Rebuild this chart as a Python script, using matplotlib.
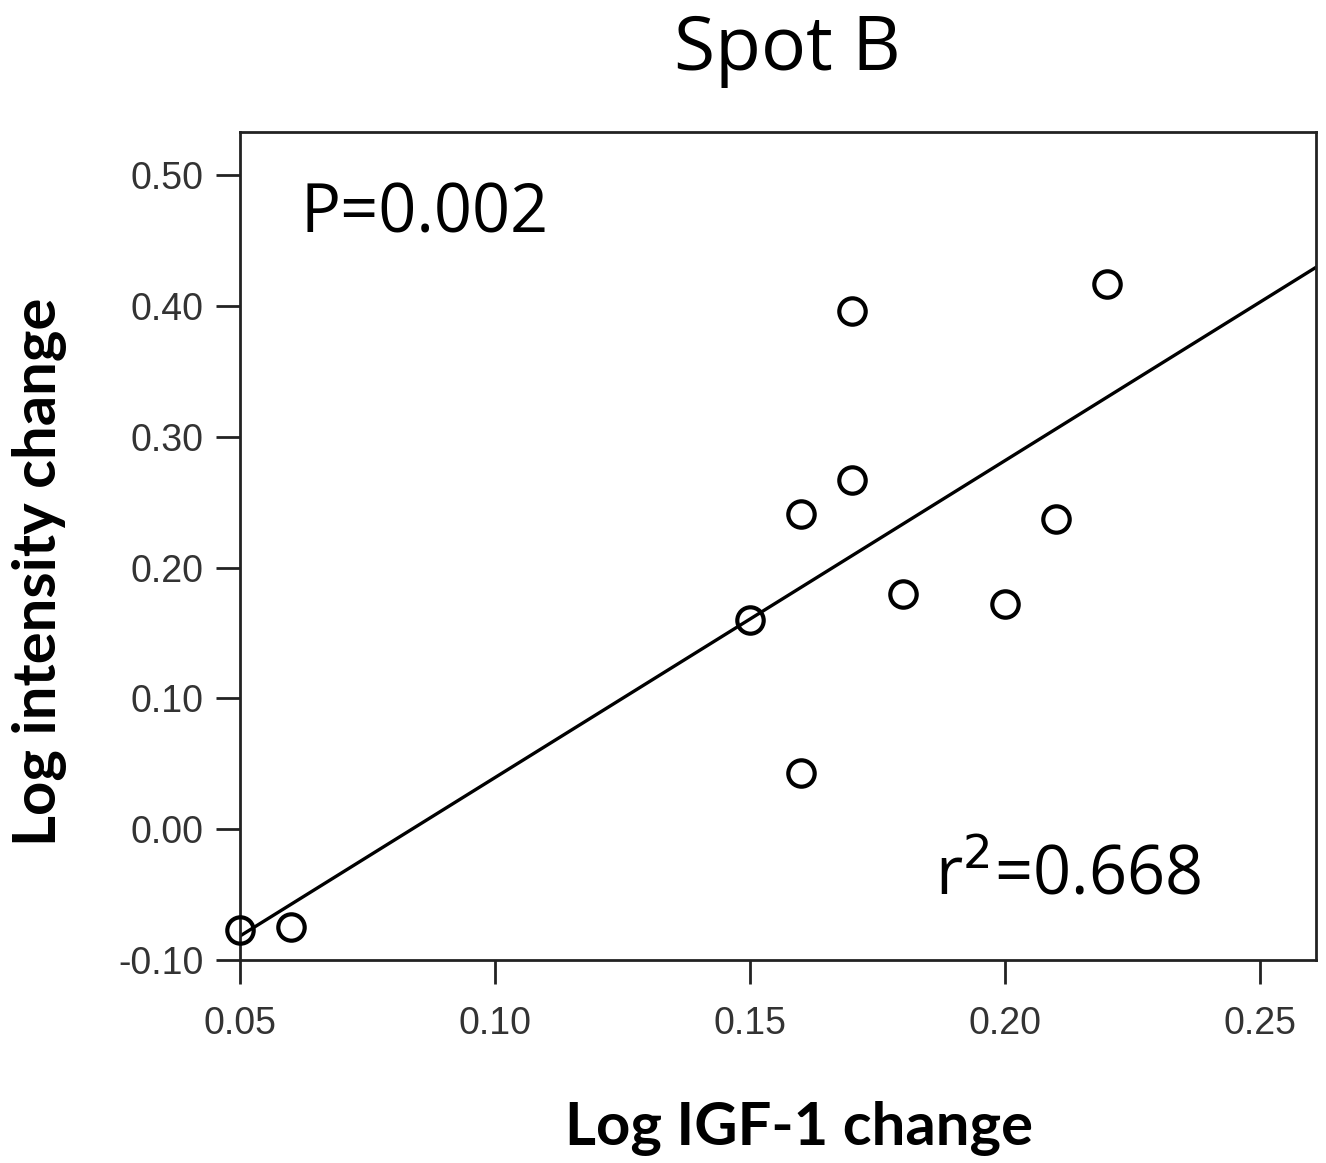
import numpy as np
import matplotlib.pyplot as plt

# Data
igf_change = [0.05, 0.06, 0.15, 0.16, 0.16, 0.17, 0.17, 0.18, 0.20, 0.21, 0.22]
intensity_change = [-0.077, -0.075, 0.160, 0.241, 0.043, 0.396, 0.267, 0.180, 0.172, 0.237, 0.417]
x_ticks = [0.05, 0.10, 0.15, 0.20, 0.25]
y_ticks = [-0.10, 0.00, 0.10, 0.20, 0.30, 0.40, 0.50]
p_text = "P=0.002"
r2_text = "r$^{2}$=0.668"

fig = plt.figure(figsize=(13.26, 11.63), dpi=100)
ax = fig.add_axes([0.181, 0.1745, 0.8115, 0.712])

ax.set_xlim(0.05, 0.261)
ax.set_ylim(-0.10, 0.533)

# regression line
slope, intercept = np.polyfit(igf_change, intensity_change, 1)
xs = np.array(ax.get_xlim())
ax.plot(xs, slope * xs + intercept, color='black', lw=2.4, zorder=2)

ax.plot(igf_change, intensity_change, 'o', ms=19, mfc='none', mec='black',
        mew=3, zorder=3, clip_on=False)

ax.set_xticks(x_ticks)
ax.set_xticklabels([f"{v:.2f}" for v in x_ticks])
ax.set_yticks(y_ticks)
ax.set_yticklabels([f"{v:.2f}" for v in y_ticks])
ax.tick_params(axis='both', direction='out', length=17, width=2, color='#222222',
               labelsize=27, labelcolor='#333333')
ax.tick_params(axis='x', pad=16)
ax.tick_params(axis='y', pad=9)
for lab in ax.get_xticklabels() + ax.get_yticklabels():
    lab.set_family('Liberation Sans')

for s in ax.spines.values():
    s.set_linewidth(2)
    s.set_color('#222222')

ax.text(0.056, 0.879, p_text, transform=ax.transAxes, fontsize=48,
        family='Open Sans', va='baseline', ha='left')
ax.text(0.646, 0.079, r2_text, transform=ax.transAxes, fontsize=48,
        family='Open Sans', va='baseline', ha='left')

fig.text(0.594, 0.957, "Spot B", fontsize=54, family='Open Sans',
         ha='center', va='center')
fig.text(0.6026, 0.030, "Log IGF-1 change", fontsize=43, family='Lato',
         weight='bold', ha='center', va='center')
fig.text(0.030, 0.508, "Log intensity change", fontsize=43, family='Lato',
         weight='bold', ha='center', va='center', rotation=90)

fig.savefig('out.png', dpi=100)
